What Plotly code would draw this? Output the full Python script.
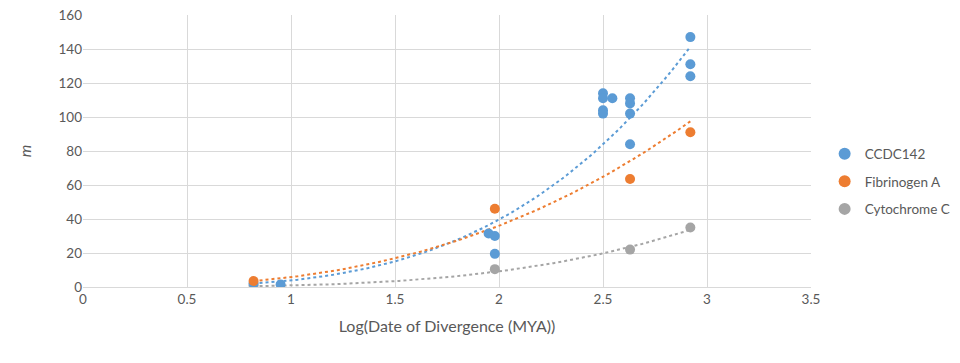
import numpy as np
import plotly.graph_objects as go

# Data (x = log10 of divergence date in MYA, y = m)
ccdc_x = [0.82, 0.95, 1.95, 1.98, 1.98, 2.50, 2.50, 2.50, 2.50, 2.545, 2.63, 2.63, 2.63, 2.63, 2.92, 2.92, 2.92]
ccdc_y = [2, 1.5, 31.5, 30, 19.5, 114, 111, 104, 102, 111, 111, 108, 102, 84, 147, 131, 124]
fib_x = [0.82, 1.98, 2.63, 2.92]
fib_y = [3.5, 46, 63.5, 91]
cyt_x = [0.82, 1.98, 2.63, 2.92]
cyt_y = [1, 10.5, 22, 35]

# Power trendline coefficients: y = a * x^p
ccdc_trend = (3.86, 3.36)
fib_trend = (5.82, 2.63)
cyt_trend = (0.853, 3.43)

x_ticks = [0, 0.5, 1, 1.5, 2, 2.5, 3, 3.5]
y_ticks = [0, 20, 40, 60, 80, 100, 120, 140, 160]

series = [
    ("CCDC142", ccdc_x, ccdc_y, ccdc_trend, "#5B9BD5", 1),
    ("Fibrinogen A", fib_x, fib_y, fib_trend, "#ED7D31", 2),
    ("Cytochrome C", cyt_x, cyt_y, cyt_trend, "#A5A5A5", 3),
]

fig = go.Figure()
for name, xs, ys, (a, p), color, rank in series:
    tx = np.linspace(min(xs), max(xs), 100)
    fig.add_trace(go.Scatter(x=tx, y=a * tx ** p, mode="lines",
                             line=dict(color=color, width=2, dash="dot"),
                             showlegend=False, hoverinfo="skip"))
draw_order = [series[2], series[0], series[1]]
for name, xs, ys, tr, color, rank in draw_order:
    fig.add_trace(go.Scatter(x=xs, y=ys, mode="markers", name=name,
                             legendgroup=name, legendrank=rank,
                             marker=dict(color=color, size=10, line=dict(width=0))))

fam = "Lato, 'Open Sans', sans-serif"
font = dict(family=fam, size=13.5, color="#595959")
fig.update_layout(
    width=960, height=363,
    margin=dict(l=83, r=149, t=15, b=76),
    paper_bgcolor="white", plot_bgcolor="white",
    font=font,
    legend=dict(xref="container", yref="container", x=0.859, xanchor="left",
                y=0.50, yanchor="middle",
                tracegroupgap=7, traceorder="grouped",
                font=dict(family=fam, size=13.5, color="#595959"),
                itemsizing="constant"),
    xaxis=dict(range=[0, 3.5], tickvals=x_ticks, ticktext=[str(v) for v in x_ticks],
               showgrid=True, gridcolor="#D9D9D9", gridwidth=1, zeroline=False,
               showline=True, linecolor="#D9D9D9", ticks="", automargin=False,
               title=dict(text="Log(Date of Divergence (MYA))", standoff=14)),
    yaxis=dict(range=[0, 160], tickvals=y_ticks, showgrid=True, gridcolor="#D9D9D9",
               gridwidth=1, zeroline=False, showline=False, ticks="", automargin=False,
               title=dict(text="<i>m</i>", standoff=22)),
)
fig.write_html("out.html", config={"displayModeBar": False},
               post_script="document.body.style.margin='0';")
